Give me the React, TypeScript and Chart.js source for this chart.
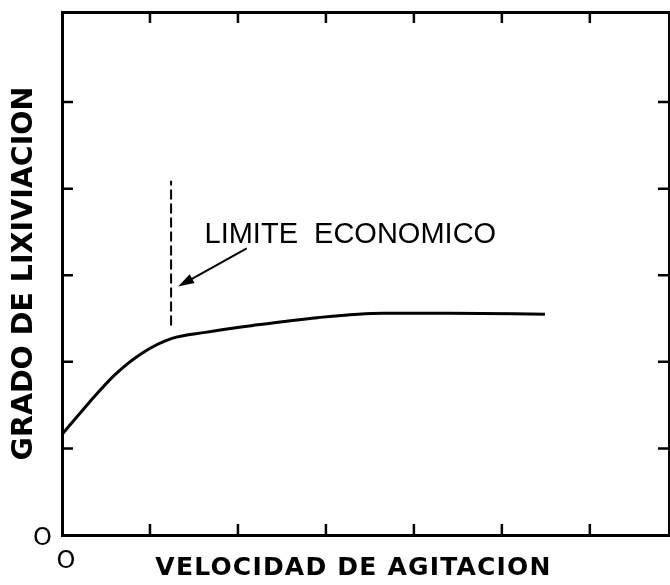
import React, { useEffect, useRef } from 'react';
import { Chart, registerables } from 'chart.js';

Chart.register(...registerables);

// ---- data ----
const speed = [0, 0.3, 0.6, 0.91, 1.25, 1.63, 2.17, 2.9, 3.65, 4.41, 5.49];
const leaching = [1.16, 1.52, 1.85, 2.1, 2.27, 2.34, 2.42, 2.51, 2.56, 2.56, 2.55];
const limitX = [1.24, 1.24];
const limitY = [2.42, 4.09];
const arrowFrom = [2.1, 3.31];
const arrowTo = [1.32, 2.87];
const annotationAt = [1.62, 3.37];
const xTicks = [0, 1, 2, 3, 4, 5, 6];
const yTicks = [0, 1, 2, 3, 4, 5];
const xMax = 6.9;
const yMax = 6.04;
const zeroLabel = 'O';
const annotationText = 'LIMITE  ECONOMICO';
const xTitle = 'VELOCIDAD DE AGITACION';
const yTitle = 'GRADO DE LIXIVIACION';

const decor = {
  id: 'decor',
  afterDatasetsDraw(chart: any) {
    const { ctx, chartArea: a, scales } = chart;
    const x = scales.x;
    const y = scales.y;
    ctx.save();
    ctx.strokeStyle = '#000';
    ctx.fillStyle = '#000';
    ctx.lineWidth = 2.5;
    const L = 11;
    xTicks.forEach((v) => {
      if (v === 0) return;
      const px = x.getPixelForValue(v);
      ctx.beginPath();
      ctx.moveTo(px, a.bottom);
      ctx.lineTo(px, a.bottom - L);
      ctx.moveTo(px, a.top);
      ctx.lineTo(px, a.top + L);
      ctx.stroke();
    });
    yTicks.forEach((v) => {
      if (v === 0) return;
      const py = y.getPixelForValue(v);
      ctx.beginPath();
      ctx.moveTo(a.left, py);
      ctx.lineTo(a.left + L, py);
      ctx.moveTo(a.right, py);
      ctx.lineTo(a.right - L, py);
      ctx.stroke();
    });

    // arrow
    const x1 = x.getPixelForValue(arrowFrom[0]);
    const y1 = y.getPixelForValue(arrowFrom[1]);
    const x2 = x.getPixelForValue(arrowTo[0]);
    const y2 = y.getPixelForValue(arrowTo[1]);
    const ang = Math.atan2(y2 - y1, x2 - x1);
    const hl = 16;
    const hw = 5;
    ctx.lineWidth = 2;
    ctx.beginPath();
    ctx.moveTo(x1, y1);
    ctx.lineTo(x2 - Math.cos(ang) * hl * 0.7, y2 - Math.sin(ang) * hl * 0.7);
    ctx.stroke();
    ctx.beginPath();
    ctx.moveTo(x2, y2);
    ctx.lineTo(
      x2 - Math.cos(ang) * hl + Math.sin(ang) * hw,
      y2 - Math.sin(ang) * hl - Math.cos(ang) * hw
    );
    ctx.lineTo(
      x2 - Math.cos(ang) * hl - Math.sin(ang) * hw,
      y2 - Math.sin(ang) * hl + Math.cos(ang) * hw
    );
    ctx.closePath();
    ctx.fill();

    // annotation text
    ctx.font = '29px "Liberation Sans"';
    ctx.textAlign = 'left';
    ctx.textBaseline = 'alphabetic';
    ctx.fillText(annotationText, x.getPixelForValue(annotationAt[0]), y.getPixelForValue(annotationAt[1]));

    // x axis title
    ctx.font = 'bold 25px "DejaVu Sans"';
    (ctx as any).letterSpacing = '1.2px';
    ctx.textAlign = 'center';
    ctx.textBaseline = 'middle';
    ctx.fillText(xTitle, (a.left + a.right) / 2 - 12, x.bottom - 17);
    ctx.restore();
  },
};

export default function App() {
  const ref = useRef<HTMLCanvasElement>(null);
  useEffect(() => {
    if (!ref.current) return;
    const tickFont = { family: 'DejaVu Sans', size: 24 };
    const noPad = (s: any) => {
      s.paddingTop = 0;
      s.paddingBottom = 0;
      s.paddingLeft = 0;
      s.paddingRight = 0;
    };
    const chart = new Chart(ref.current, {
      type: 'line',
      data: {
        datasets: [
          {
            data: speed.map((v, i) => ({ x: v, y: leaching[i] })),
            borderColor: '#000',
            borderWidth: 3,
            pointRadius: 0,
            cubicInterpolationMode: 'monotone',
            fill: false,
          },
          {
            data: limitX.map((v, i) => ({ x: v, y: limitY[i] })),
            borderColor: '#000',
            borderWidth: 2,
            borderDash: [10, 4],
            pointRadius: 0,
            fill: false,
          },
        ],
      },
      options: {
        animation: false,
        responsive: false,
        layout: { padding: { top: 12, right: 1, left: 0, bottom: 0 } },
        plugins: { legend: { display: false }, tooltip: { enabled: false } },
        scales: {
          x: {
            type: 'linear',
            position: 'bottom',
            min: 0,
            max: xMax,
            afterBuildTicks: (s: any) => {
              s.ticks = xTicks.map((v) => ({ value: v }));
            },
            afterFit: (s: any) => {
              s.height = 50;
              noPad(s);
            },
            grid: { display: false, drawTicks: false },
            border: { display: true, color: '#000', width: 3 },
            ticks: {
              autoSkip: false,
              maxRotation: 0,
              padding: 12,
              labelOffset: 4,
              color: '#000',
              font: tickFont,
              callback: (v: any) => (v === 0 ? zeroLabel : ''),
            },
          },
          xTop: {
            type: 'linear',
            position: 'top',
            min: 0,
            max: xMax,
            afterFit: (s: any) => {
              s.height = 0;
              noPad(s);
            },
            grid: { display: false, drawTicks: false },
            border: { display: true, color: '#000', width: 3 },
            ticks: { display: false },
          },
          y: {
            type: 'linear',
            position: 'left',
            min: 0,
            max: yMax,
            afterBuildTicks: (s: any) => {
              s.ticks = yTicks.map((v) => ({ value: v }));
            },
            afterFit: (s: any) => {
              s.width = 62;
              noPad(s);
            },
            grid: { display: false, drawTicks: false },
            border: { display: true, color: '#000', width: 3 },
            ticks: {
              autoSkip: false,
              padding: 10,
              labelOffset: 4,
              color: '#000',
              font: tickFont,
              callback: (v: any) => (v === 0 ? zeroLabel : ''),
            },
            title: {
              display: true,
              text: yTitle,
              color: '#000',
              font: { family: 'DejaVu Sans', size: 28.5, weight: 'bold' },
              padding: { top: 7, bottom: 0 },
            },
          },
          yRight: {
            type: 'linear',
            position: 'right',
            min: 0,
            max: yMax,
            afterFit: (s: any) => {
              s.width = 0;
              noPad(s);
            },
            grid: { display: false, drawTicks: false },
            border: { display: true, color: '#000', width: 3 },
            ticks: { display: false },
          },
        },
      } as any,
      plugins: [decor],
    });
    return () => chart.destroy();
  }, []);
  return (
    <div style={{ position: 'fixed', left: 0, top: 0, width: 670, height: 585, background: '#fff' }}>
      <canvas ref={ref} width={670} height={585} style={{ display: 'block' }} />
    </div>
  );
}
